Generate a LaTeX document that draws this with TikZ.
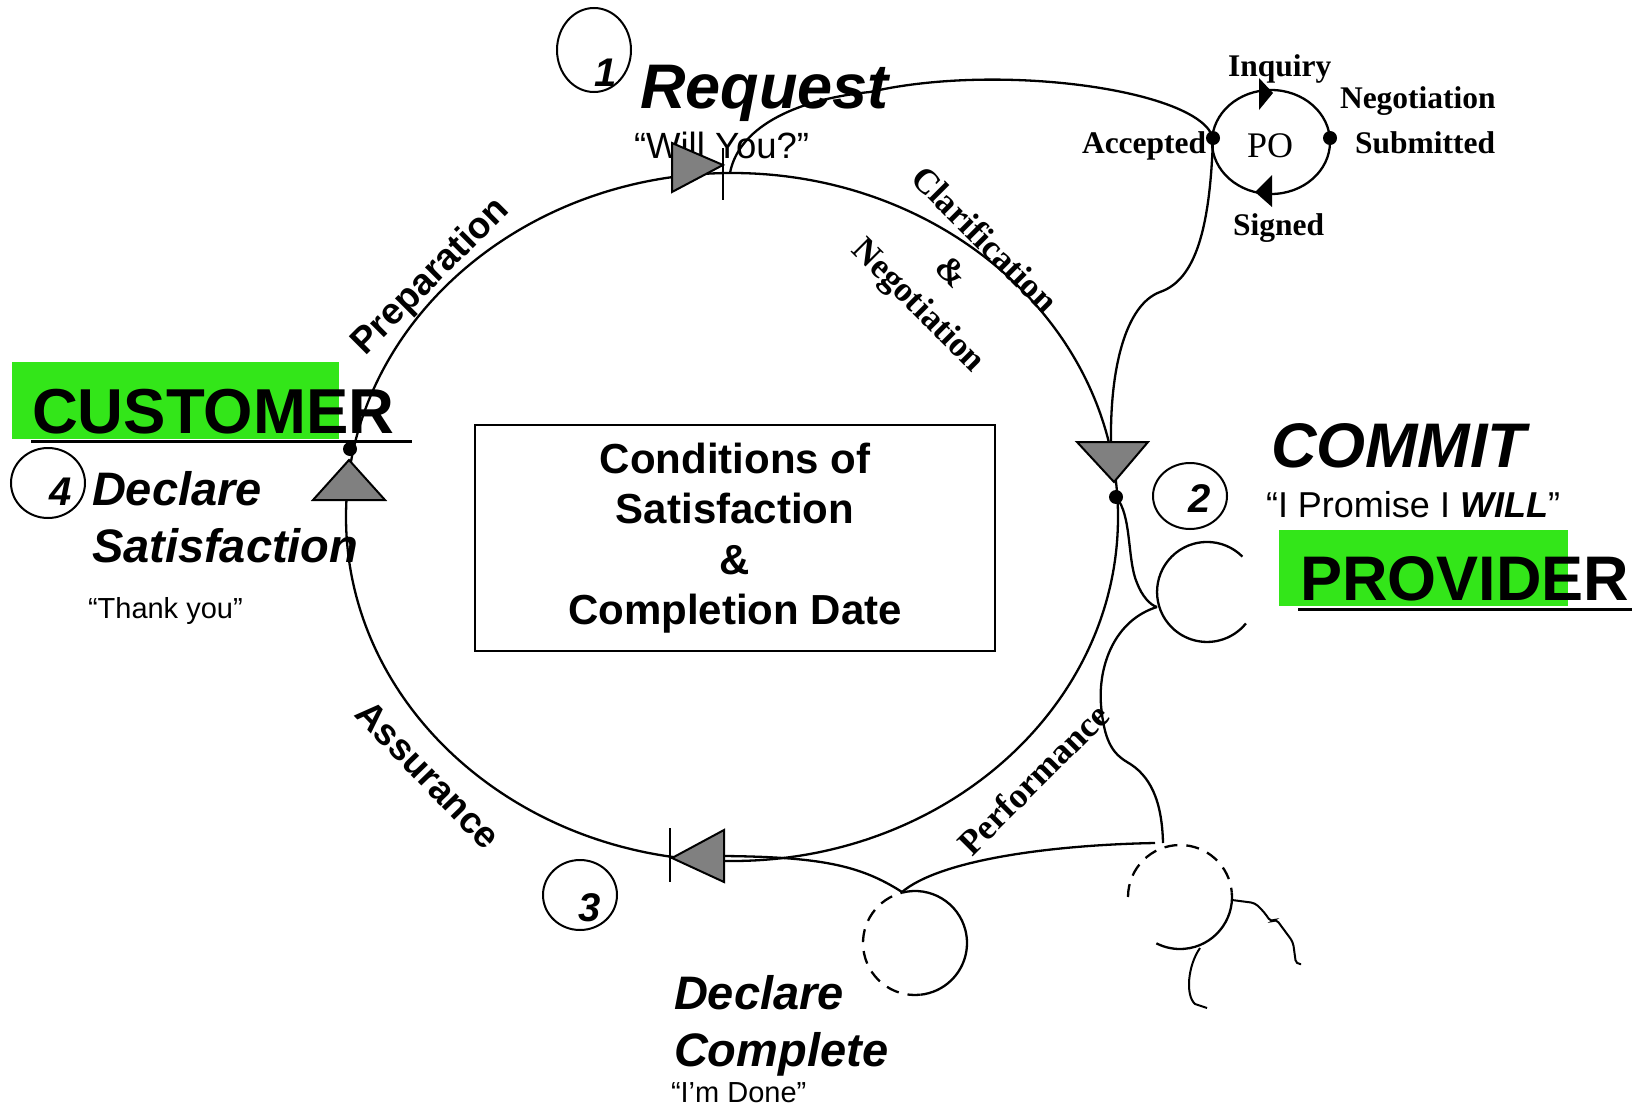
\documentclass[tikz,border=0pt]{standalone}
\usepackage{fontspec}
\setmainfont{Liberation Serif}
\newfontfamily\arialfont{Liberation Sans}
\usetikzlibrary{shapes.geometric}
\definecolor{grn}{RGB}{51,230,25}
\definecolor{trigray}{RGB}{128,128,128}
\newcommand{\fsz}[1]{\fontsize{#1}{#1}\selectfont}
\begin{document}
\begin{tikzpicture}[x=1pt,y=-1pt,line width=2.3pt,
  lbl/.style={inner sep=0pt,outer sep=0pt},
  numcirc/.style={draw,ellipse,inner sep=0pt,line width=2pt},
  numtxt/.style={lbl,anchor=base,font=\arialfont\bfseries\itshape\fsz{40}},
  bigbi/.style={lbl,anchor=base west,font=\arialfont\bfseries\itshape\fsz{47}},
  quote/.style={lbl,anchor=base west,font=\arialfont\fsz{29}},
  polbl/.style={lbl,anchor=base west,font=\bfseries\fsz{31.5}},
  arrowtri/.style={fill=trigray,draw=black,line width=2pt,line join=miter},
  dashcirc/.style={dash pattern=on 13pt off 9pt},
  dot/.style={fill=black}]
\useasboundingbox (0,0) rectangle (1644,1108);

% green highlight boxes
\fill[grn] (12,362) rectangle (339,439);
\fill[grn] (1279,530) rectangle (1568,606);

% ---------------- texts ----------------
\node[lbl,anchor=base west] (req) at (640,108) {\arialfont\bfseries\itshape\fsz{63}Request};
\node[lbl,anchor=base west] (willyou) at (634,158) {\arialfont\fsz{36.5}“Will You?”};
\node[lbl,anchor=base west] (commit) at (1271,467) {\arialfont\bfseries\itshape\fsz{63}COMMIT};
\node[lbl,anchor=base west] (promise) at (1266,517) {\arialfont\fsz{36}“I Promise I \textbf{\textit{WILL}}”};
\node[lbl,anchor=base west] (provider) at (1300,600) {\arialfont\bfseries\fsz{63}PROVIDER};
\node[lbl,anchor=base west] (customer) at (32,433) {\arialfont\bfseries\fsz{63.5}CUSTOMER};
\node[bigbi] (declA) at (92,505) {Declare};
\node[bigbi] (satis) at (92,562) {Satisfaction};
\node[quote] (thank) at (88,618) {“Thank you”};
\node[bigbi] (declB) at (674,1009) {Declare};
\node[bigbi] (compl) at (674,1066) {Complete};
\node[quote] (done) at (671,1102) {“I’m Done”};

\node[lbl,rotate=45] (prep) at (431,277) {\arialfont\bfseries\fsz{37}Preparation};
\node[lbl,rotate=-46] (assur) at (428,775) {\arialfont\bfseries\fsz{37}Assurance};
\node[lbl,rotate=45] (perf) at (1033,779) {\bfseries\fsz{35.5}Performance};
\node[lbl,rotate=-45,align=center,font=\bfseries\fontsize{35}{46}\selectfont] (clar) at (950,274) {Clarification\\\&\\Negotiation};

\node[draw,line width=2pt,minimum width=520pt,minimum height=226pt,inner sep=0pt,align=center,
  font=\arialfont\bfseries\fontsize{42}{50.5}\selectfont] (cos) at (735,538)
  {Conditions of\\Satisfaction\\\&\\Completion Date};

% PO labels
\node[polbl] (inq) at (1228,77) {Inquiry};
\node[polbl] (neg) at (1340,108) {Negotiation};
\node[polbl] (sub) at (1355,153) {Submitted};
\node[polbl] (acc) at (1082,153) {Accepted};
\node[polbl] (sig) at (1233,235) {Signed};
\node[lbl,anchor=base] (potxt) at (1270,157) {\fsz{36}PO};

% numbered circles
\node[numcirc,minimum width=74pt,minimum height=84pt] (c1) at (594,50) {};
\node[numcirc,minimum width=74pt,minimum height=66pt] (c2) at (1190,496) {};
\node[numcirc,minimum width=74pt,minimum height=70pt] (c3) at (580,895) {};
\node[numcirc,minimum width=74pt,minimum height=70pt] (c4) at (48,483) {};
\node[numtxt] (n1) at (606,87) {1};
\node[numtxt] (n2) at (1200,512) {2};
\node[numtxt] (n3) at (590,921) {3};
\node[numtxt] (n4) at (61,505) {4};

% ---------------- main cycle ----------------
\node[draw,ellipse,minimum width=772pt,minimum height=688pt,inner sep=0pt] (cyc) at (732,517) {};

% PO circle
\node[draw,ellipse,minimum width=118pt,minimum height=104pt,inner sep=0pt] (po) at (1271,142) {};

% connector coordinates
\coordinate (reqStart) at (730,173);
\coordinate (mid1) at (870,92);
\coordinate (poL) at (1213,138);
\coordinate (poR) at (1330,138);
\coordinate (kink) at (1160,292);
\coordinate (triRtop) at (1111,442);
\coordinate (dotR) at (1116,497);
\coordinate (dotL) at (350,449);
\coordinate (cL) at (1157,607);
\coordinate (rcTop) at (1163,843);
\coordinate (rcTopB) at (1155,843);
\coordinate (lcTop) at (902,892);
\coordinate (triBbase) at (724,856);

% request -> PO -> commit
\draw (reqStart) .. controls (738,130) and (790,100) .. (mid1)
  .. controls (1000,62) and (1200,90) .. (poL)
  .. controls (1210,230) and (1195,280) .. (kink)
  .. controls (1125,305) and (1110,370) .. (triRtop);

% provider figure
\draw (dotR) .. controls (1132,515) and (1127,560) .. (1137,583)
  .. controls (1142,596) and (1150,605) .. (cL);
\draw (1242.4,556.6) arc[start angle=-45,end angle=-321,radius=50];
\draw (cL) .. controls (1115,620) and (1098,665) .. (1101,705)
  .. controls (1104,740) and (1112,753) .. (1127,762)
  .. controls (1150,775) and (1162,800) .. (rcTop);
\draw (rcTopB) .. controls (1050,845) and (940,860) .. (lcTop);
\draw (lcTop) .. controls (860,865) and (820,857) .. (triBbase);

% right dashed figure
\draw[dashcirc] (1180,897) ++(180:52) arc[start angle=180,end angle=355,radius=52];
\draw (1180,897) ++(355:52) arc[start angle=355,end angle=477,radius=52];
\draw[rounded corners=4pt,line width=2pt] (1232,900) -- (1255,903) -- (1264,912) -- (1271,922)
  -- (1276,919) -- (1293,942) -- (1296,964) -- (1301,964);
\draw[line width=2pt] (1200,948) .. controls (1188,965) and (1185,995) .. (1195,1004) -- (1207,1008);

% left dashed figure
\draw (915,943) ++(256:52) arc[start angle=256,end angle=444,radius=52];
\draw[dashcirc] (915,943) ++(84:52) arc[start angle=84,end angle=256,radius=52];

% underlines
\draw[line width=3pt] (31,441) -- (412,441);
\draw[line width=3pt] (1298,609) -- (1632,609);

% arrow triangles and ticks
\draw[arrowtri] (672,143) -- (723,165) -- (672,192) -- cycle;
\draw[line width=2pt] (723,148) -- (723,200);
\draw[arrowtri] (724,830) -- (672,858) -- (724,882) -- cycle;
\draw[line width=2pt] (670,828) -- (670,882);
\draw[arrowtri] (313,500) -- (349,460) -- (385,500) -- cycle;
\draw[arrowtri] (1077,442) -- (1148,442) -- (1114,482) -- cycle;

% PO arrowheads
\fill (1259,78) -- (1273,93) -- (1259,110) -- cycle;
\fill (1272,175) -- (1255,192) -- (1272,207) -- cycle;

% dots
\fill[dot] (dotL) circle[radius=7];
\fill[dot] (dotR) circle[radius=7];
\fill[dot] (poL) circle[radius=7];
\fill[dot] (poR) circle[radius=7];
\end{tikzpicture}
\end{document}
